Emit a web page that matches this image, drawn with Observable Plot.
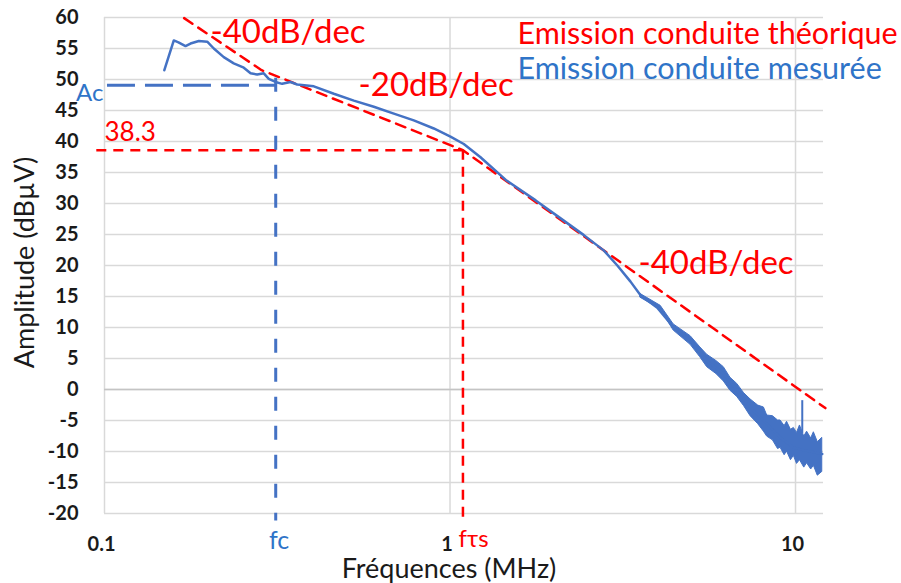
<!DOCTYPE html>
<html>
<head>
<meta charset="utf-8">
<script src="https://cdn.jsdelivr.net/npm/d3@7"></script>
<script src="https://cdn.jsdelivr.net/npm/@observablehq/plot@0.6"></script>
<style>
  html, body { margin: 0; padding: 0; background: #fff; }
  svg { display: block; }
</style>
</head>
<body>
<div id="chart"></div>
<script>
// ---- data ----
const xTicks = [0.1, 1, 10];
const yTicks = [-20, -15, -10, -5, 0, 5, 10, 15, 20, 25, 30, 35, 40, 45, 50, 55, 60];

// measured conducted emission (MHz, dBµV)
const measFreq = [0.149, 0.1587, 0.1637, 0.1716, 0.1774, 0.1875, 0.1983, 0.2072, 0.2214, 0.2366, 0.253, 0.2647, 0.2767, 0.2891, 0.2988, 0.3126, 0.3268, 0.3453, 0.3611, 0.4035, 0.4611, 0.5268, 0.6018, 0.6877, 0.7855, 0.8976, 1.003, 1.096, 1.223, 1.45, 1.77, 2.09, 2.44, 2.79, 3.05, 3.33, 3.56, 3.98, 4.44, 4.97, 5.55, 6.2, 6.78, 7.41, 8.28, 9.05, 9.89, 10.8, 11.95];
const measAmp  = [51.5, 56.3, 56.0, 55.4, 55.8, 56.2, 56.1, 55.0, 53.6, 52.6, 51.9, 51.0, 50.8, 51.0, 50.1, 49.6, 49.3, 49.6, 49.2, 48.9, 47.7, 46.6, 45.6, 44.5, 43.4, 42.1, 40.8, 39.6, 37.5, 33.8, 30.5, 27.6, 24.9, 22.4, 20.0, 17.4, 15.2, 13.2, 10.0, 7.9, 4.6, 2.5, -0.2, -2.9, -5.6, -7.8, -9.4, -9.9, -10.4];

// noise envelope of the measurement at high frequency
const noiseFreq = [3.56, 4.07, 4.44, 4.97, 5.3, 5.55, 5.9, 6.2, 6.48, 6.78, 7.1, 7.41, 7.8, 8.1, 8.28, 8.6, 8.9, 9.05, 9.3, 9.45, 9.7, 9.89, 10.1, 10.3, 10.6, 10.8, 11.1, 11.3, 11.6, 11.95];
const noiseHigh = [15.4, 13.5, 10.5, 8.6, 6.8, 5.6, 4.6, 3.6, 1.9, 0.9, -0.6, -1.6, -2.6, -2.9, -4.2, -4.3, -5.0, -5.0, -5.9, -5.2, -6.5, -6.2, -7.0, -5.8, -7.6, -6.8, -7.9, -6.9, -8.5, -7.8];
const noiseLow  = [14.8, 12.9, 9.5, 7.2, 5.2, 3.6, 2.5, 1.3, -0.2, -1.2, -2.7, -4.3, -5.6, -6.8, -7.6, -8.2, -9.6, -9.4, -10.6, -10.0, -11.4, -10.7, -12.0, -11.4, -12.6, -11.9, -12.9, -12.3, -13.9, -13.3];
const spikeFreq = [10.46];
const spikeLow = [-7.1];
const spikeHigh = [-1.8];

// theoretical asymptotes
const theoFreq = [0.17, 0.285, 1.09, 12.2];
const theoAmp  = [59.9, 51.5, 38.6, -3.0];

// characteristic points
const fc = 0.313, Ac = 49.06;
const fts = 1.09, Ats = 38.6;

// annotations
const annText = ["-40dB/dec", "-20dB/dec", "-40dB/dec"];
const annFreq = [0.2026, 0.5434, 3.51];
const annAmp  = [57.6, 49.1, 20.4];
const legendText = ["Emission conduite théorique", "Emission conduite mesurée"];
const legendFreq = [1.568, 1.568];
const legendAmp  = [57.3, 51.6];

// ---- build tables ----
const meas = measFreq.map((f, i) => ({f, a: measAmp[i]}));
const noise = noiseFreq.map((f, i) => ({f, lo: noiseLow[i], hi: noiseHigh[i]}));
const theo = theoFreq.map((f, i) => ({f, a: theoAmp[i]}));
const spikes = spikeFreq.map((f, i) => ({f, lo: spikeLow[i], hi: spikeHigh[i]}));
const ann = annText.map((t, i) => ({t, f: annFreq[i], a: annAmp[i]}));
const leg = legendText.map((t, i) => ({t, f: legendFreq[i], a: legendAmp[i]}));

const RED = "#ff0000";
const BLUE = "#4472c4";
const BLUE_TXT = "#2f74c8";
const FONT = "Lato, 'Open Sans', sans-serif";

const chart = Plot.plot({
  width: 901,
  height: 583,
  marginLeft: 104,
  marginRight: 78,
  marginTop: 17,
  marginBottom: 70,
  x: {type: "log", domain: [0.1, 12.05]},
  y: {domain: [-20, 60]},
  style: {fontFamily: FONT, background: "white", overflow: "visible", color: "#1a1a1a"},
  marks: [
    Plot.gridY(yTicks, {stroke: "#d9d9d9", strokeOpacity: 1, strokeWidth: 1.5}),
    Plot.gridX(xTicks, {stroke: "#d9d9d9", strokeOpacity: 1, strokeWidth: 1.5}),
    Plot.ruleY([0], {stroke: "#c4c4c4", strokeWidth: 1.5}),
    Plot.axisY(yTicks, {tickSize: 0, tickPadding: 26, fontSize: 20, fontWeight: "bold", tickFormat: d => String(d), label: null}),
    Plot.axisX(xTicks, {tickSize: 0, tickPadding: 23, fontSize: 20, fontWeight: "bold", tickFormat: d => String(d), label: null, dx: -3}),

    // axis titles
    Plot.text(["Amplitude (dBµV)"], {frameAnchor: "left", textAnchor: "middle", lineAnchor: "middle", dx: -79.3, dy: -3, rotate: -90, text: d => d, fontSize: 27, fill: "#1a1a1a"}),
    Plot.text(["Fréquences (MHz)"], {frameAnchor: "bottom", textAnchor: "middle", lineAnchor: "middle", dx: -15, dy: 55.5, text: d => d, fontSize: 27, fill: "#1a1a1a"}),

    // theoretical asymptotes and reference lines
    Plot.line(theo, {x: "f", y: "a", stroke: RED, strokeWidth: 2.5, strokeDasharray: "10,7"}),
    Plot.ruleY([Ats], {x1: 0.095, x2: fts, stroke: RED, strokeWidth: 2.5, strokeDasharray: "10,7"}),
    Plot.ruleX([fts], {y1: Ats, y2: -21.2, stroke: RED, strokeWidth: 2.5, strokeDasharray: "10,7"}),

    // measured emission
    Plot.areaY(noise, {x: "f", y1: "lo", y2: "hi", fill: BLUE, fillOpacity: 1, stroke: BLUE, strokeWidth: 1}),
    Plot.line(meas, {x: "f", y: "a", stroke: BLUE, strokeWidth: 2.5}),
    Plot.ruleX(spikes, {x: "f", y1: "lo", y2: "hi", stroke: BLUE, strokeWidth: 2}),

    // fc / Ac markers
    Plot.ruleY([Ac], {x1: 0.102, x2: fc, stroke: BLUE, strokeWidth: 3, strokeDasharray: "28,10"}),
    Plot.ruleX([fc], {y1: 50.2, y2: -21.2, stroke: BLUE, strokeWidth: 3, strokeDasharray: "14,15"}),

    // annotations
    Plot.text(ann, {x: "f", y: "a", text: "t", fill: RED, fontSize: 33, textAnchor: "start"}),
    Plot.text(["38.3"], {x: 0.1, y: 41.5, text: d => d, fill: RED, fontSize: 26, textAnchor: "start"}),
    Plot.text(["Ac"], {x: 0.1, y: 47.8, text: d => d, fill: BLUE_TXT, fontSize: 24, textAnchor: "end", dx: -1}),
    Plot.text(["fc"], {x: 0.32, y: -24.4, text: d => d, fill: BLUE_TXT, fontSize: 25}),
    Plot.text(["fτs"], {x: 1.17, y: -24.2, text: d => d, fill: RED, fontSize: 24}),
    Plot.text(leg, {x: "f", y: "a", text: "t", fill: (d, i) => i === 0 ? RED : BLUE_TXT, fontSize: 30.5, textAnchor: "start"})
  ]
});

document.getElementById("chart").appendChild(chart);
</script>
</body>
</html>
